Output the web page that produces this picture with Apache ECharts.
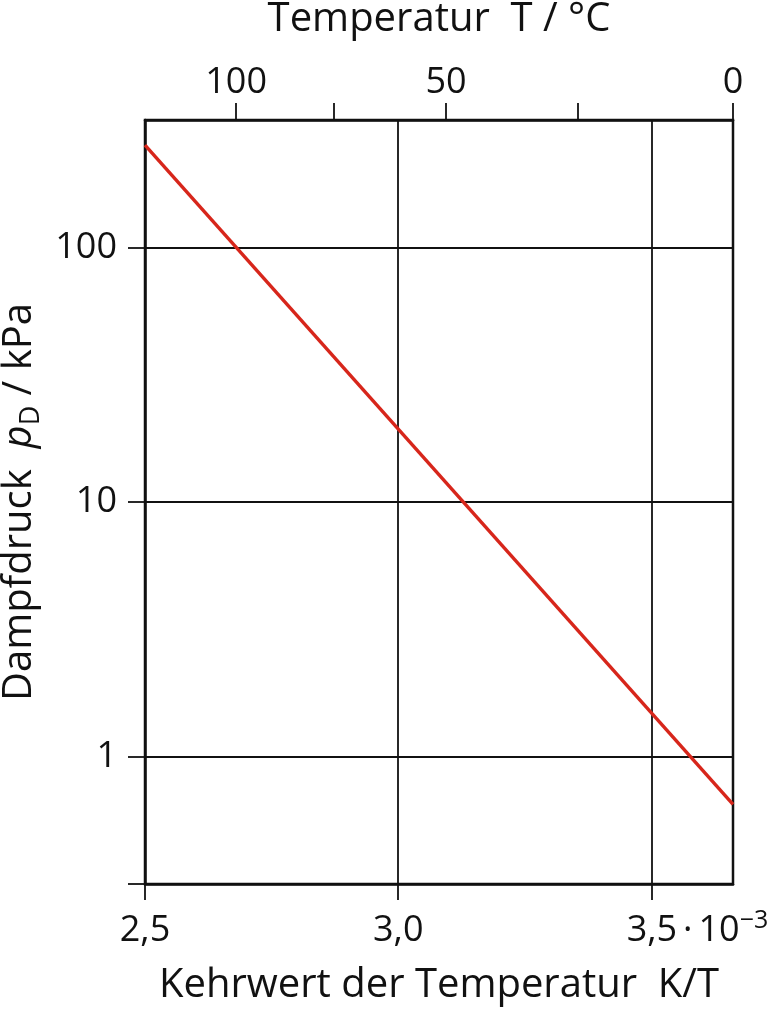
<!DOCTYPE html>
<html>
<head>
<meta charset="utf-8">
<script src="https://cdn.jsdelivr.net/npm/echarts@6/dist/echarts.min.js"></script>
<style>
  html, body { margin: 0; padding: 0; background: #fff; }
  #chart { width: 775px; height: 1009px; }
</style>
</head>
<body>
<div id="chart"></div>
<script>
// Kehrwert der Temperatur (10^-3 K^-1) und Temperaturen der oberen Achse
const invTempTicks = [2.5, 3.0, 3.5];
const tempTicksC = [100, 75, 50, 25, 0];
const tempLabelsC = [100, 50, 0];
// Dampfdruck-Achse (kPa, logarithmisch)
const pressureTicks = [1, 10, 100];
const pressureMin = 0.31623;
const pressureMax = 316.23;
// Dampfdruckkurve (rote Gerade)
const curveInvT = [2.5, 3.661];
const curveP = [252, 0.65];

const FONT = 'Open Sans';
const TICK_SIZE = 36;
const NAME_SIZE = 40;
const toInvT = function (c) { return 1000 / (c + 273.15); };
const invTMin = 2.5;
const invTMax = toInvT(0);

let chart = echarts.init(document.getElementById('chart'), null, { renderer: 'canvas' });

chart.setOption({
  animation: false,
  backgroundColor: '#fff',
  textStyle: { fontFamily: FONT, color: '#111' },
  grid: {
    left: 145, right: 42, top: 120, bottom: 125,
    containLabel: false, outerBoundsMode: 'none',
    show: true, borderColor: '#111', borderWidth: 2.5
  },
  xAxis: [
    {
      type: 'value', position: 'bottom',
      min: invTMin, max: invTMax,
      name: 'Kehrwert der Temperatur  K/T',
      nameLocation: 'middle', nameGap: 82,
      nameTextStyle: { fontFamily: FONT, fontSize: NAME_SIZE, color: '#111' },
      axisLine: { lineStyle: { color: '#111', width: 2.5 } },
      axisTick: { show: true, inside: false, length: 16, customValues: invTempTicks,
        lineStyle: { color: '#111', width: 1.8 } },
      splitLine: { show: true, lineStyle: { color: '#111', width: 1.8 } },
      axisLabel: {
        customValues: invTempTicks, margin: 24,
        fontFamily: FONT, fontSize: TICK_SIZE, color: '#111',
        formatter: function (v) {
          let s = v.toFixed(1).replace('.', ',');
          if (Math.abs(v - 3.5) < 1e-6) {
            return '{pad|}{m|' + s + '\u2009·\u200910}{e|−3}';
          }
          return '{m|' + s + '}';
        },
        rich: {
          pad: { width: 92 },
          m: { fontFamily: FONT, fontSize: TICK_SIZE, color: '#111', lineHeight: 46 },
          e: { fontFamily: FONT, fontSize: 25, color: '#111', verticalAlign: 'top', lineHeight: 46 }
        }
      }
    },
    {
      type: 'value', position: 'top',
      min: invTMin, max: invTMax,
      name: 'Temperatur  T / °C',
      nameLocation: 'middle', nameGap: 80,
      nameTextStyle: { fontFamily: FONT, fontSize: NAME_SIZE, color: '#111' },
      axisLine: { lineStyle: { color: '#111', width: 2.5 } },
      axisTick: { show: true, inside: false, length: 17,
        customValues: tempTicksC.map(toInvT),
        lineStyle: { color: '#111', width: 1.8 } },
      splitLine: { show: false },
      axisLabel: {
        customValues: tempLabelsC.map(toInvT), margin: 19,
        fontFamily: FONT, fontSize: TICK_SIZE, color: '#111',
        formatter: function (v) { return String(Math.round(1000 / v - 273.15)); }
      }
    }
  ],
  yAxis: {
    type: 'log', logBase: 10,
    min: pressureMin, max: pressureMax,
    name: '{n|Dampfdruck  }{i|p}{s|D}{n| / kPa}',
    nameLocation: 'middle', nameGap: 100,
    nameTextStyle: {
      fontFamily: FONT, fontSize: NAME_SIZE, color: '#111',
      rich: {
        n: { fontFamily: FONT, fontSize: NAME_SIZE, color: '#111', lineHeight: 50 },
        i: { fontFamily: FONT, fontSize: NAME_SIZE, fontStyle: 'italic', color: '#111', lineHeight: 50 },
        s: { fontFamily: FONT, fontSize: 27, color: '#111', verticalAlign: 'bottom', lineHeight: 50 }
      }
    },
    axisLine: { show: true, lineStyle: { color: '#111', width: 2.5 } },
    axisTick: { show: true, inside: false, length: 17,
      customValues: [pressureMin].concat(pressureTicks),
      lineStyle: { color: '#111', width: 1.8 } },
    splitLine: { show: true, lineStyle: { color: '#111', width: 1.8 } },
    minorTick: { show: false },
    axisLabel: {
      customValues: pressureTicks, margin: 28,
      fontFamily: FONT, fontSize: TICK_SIZE, color: '#111',
      formatter: function (v) { return String(Math.round(v)); }
    }
  },
  series: [
    {
      name: 'Dampfdruck',
      type: 'line',
      xAxisIndex: 0,
      data: curveInvT.map(function (x, i) { return [x, curveP[i]]; }),
      showSymbol: false,
      lineStyle: { color: '#d7261b', width: 3.4 },
      z: 5
    }
  ]
});
</script>
</body>
</html>
